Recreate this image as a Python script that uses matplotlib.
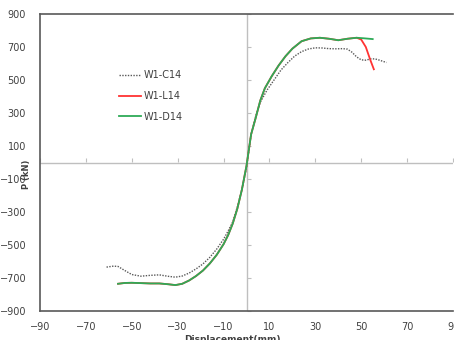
import matplotlib
matplotlib.use("Agg")
import matplotlib.pyplot as plt

# ---- data ----
c14_x = [-61, -58, -56, -53, -50, -46, -42, -38, -34, -31, -28, -25, -22, -19, -16, -13,
         -10, -8, -6, -4, -2, 0, 2, 4, 6, 9, 12, 15, 18, 21, 24, 27, 30, 33, 36, 39, 42,
         44, 46, 48, 50, 52, 54, 56, 58, 61]
c14_y = [-634, -628, -630, -655, -679, -689, -684, -681, -690, -695, -688, -670, -645,
         -615, -575, -525, -465, -415, -360, -270, -164, -30, 170, 280, 365, 440, 500,
         560, 605, 645, 672, 688, 695, 694, 690, 689, 690, 687, 668, 640, 622, 620, 628,
         628, 620, 606]

d14_x = [-56, -53, -50, -46, -42, -38, -34, -31, -28, -25, -22, -19, -16, -13, -10, -8,
         -6, -4, -2, 0, 2, 4, 6, 8, 11, 14, 17, 20, 24, 28, 32, 36, 40, 44, 48, 51, 55]
d14_y = [-735, -730, -729, -731, -733, -733, -738, -743, -735, -715, -688, -655, -612,
         -560, -495, -440, -370, -280, -164, -20, 170, 270, 375, 450, 523, 588, 644, 690,
         735, 752, 756, 750, 741, 750, 756, 753, 748]

l14_x = [-56, -53, -50, -46, -42, -38, -34, -31, -28, -25, -22, -19, -16, -13, -10, -8,
         -6, -4, -2, 0, 2, 4, 6, 8, 11, 14, 17, 20, 24, 28, 32, 36, 40, 44, 48, 50, 52,
         54, 55.5]
l14_y = [-735, -730, -729, -731, -733, -733, -738, -743, -735, -715, -688, -655, -612,
         -560, -495, -440, -370, -280, -164, -20, 170, 270, 375, 450, 523, 588, 644, 690,
         735, 752, 756, 750, 741, 750, 756, 745, 700, 620, 565]

x_ticks = [-90, -70, -50, -30, -10, 10, 30, 50, 70, 90]
y_ticks = [-900, -700, -500, -300, -100, 100, 300, 500, 700, 900]
series_names = ["W1-C14", "W1-L14", "W1-D14"]

# ---- figure ----
fig = plt.figure(figsize=(4.54, 3.40), dpi=100)
ax = fig.add_axes([40/454, 29/340, 413/454, 297/340])

ax.plot(c14_x, c14_y, color="#595959", lw=1.0, ls=(0, (1, 1)), label=series_names[0])
ax.plot(l14_x, l14_y, color="#FF3333", lw=1.3, label=series_names[1])
ax.plot(d14_x, d14_y, color="#2EAA57", lw=1.3, label=series_names[2])

ax.set_xlim(-90, 90)
ax.set_ylim(-900, 900)
ax.set_xticks(x_ticks)
ax.set_yticks(y_ticks)
ax.tick_params(axis="both", length=0, labelsize=7, colors="#404040")
ax.tick_params(axis="x", pad=8)
ax.tick_params(axis="y", pad=10)

for s in ["left", "top", "bottom"]:
    ax.spines[s].set_color("#595959")
    ax.spines[s].set_linewidth(1.2)
ax.spines["right"].set_visible(False)

# zero axes with tick marks
ax.axhline(0, color="#BFBFBF", lw=1.0, zorder=0.5)
ax.axvline(0, color="#BFBFBF", lw=1.0, zorder=0.5)
sx = ax.secondary_xaxis(0.5)
sx.set_xticks(x_ticks)
sx.tick_params(axis="x", direction="out", length=3, color="#BFBFBF",
               labelbottom=False, labeltop=False)
sx.spines["bottom"].set_visible(False)
sx.spines["top"].set_visible(False)
sy = ax.secondary_yaxis(0.5)
sy.set_yticks(y_ticks)
sy.tick_params(axis="y", direction="out", length=3, color="#BFBFBF",
               labelleft=False, labelright=False)
sy.spines["left"].set_visible(False)
sy.spines["right"].set_visible(False)

ax.set_xlabel("Displacement(mm)", fontsize=6.5, fontweight="bold", color="#404040")
ax.xaxis.set_label_coords(0.466, -0.08)
ax.text(-96, -70, "P (kN)", rotation=90, fontsize=6, fontweight="bold",
        color="#404040", ha="center", va="center", clip_on=False)

leg = ax.legend(loc="upper left", bbox_to_anchor=(0.17, 0.84), frameon=False,
                fontsize=7, handlelength=2.3, labelspacing=1.1, handletextpad=0.2)
for t in leg.get_texts():
    t.set_color("#404040")

fig.savefig("out.png", dpi=100)
